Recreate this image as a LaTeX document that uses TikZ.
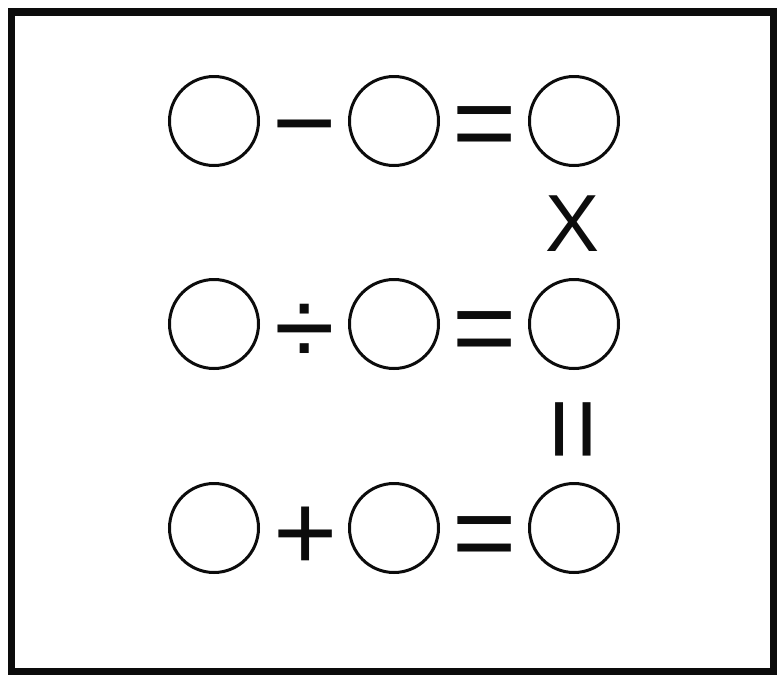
\documentclass[tikz,border=0pt]{standalone}
\usepackage{fontspec}
\setmainfont{Liberation Sans}
\usepackage{tikz}
\usetikzlibrary{positioning}
\definecolor{FrameBlack}{RGB}{12, 12, 12}
\tikzset{
    blank/.style={circle, draw=FrameBlack, line width=3pt, minimum size=89pt, inner sep=0pt},
    op/.style={inner sep=0pt, anchor=base, yshift=-37pt, text=FrameBlack, font=\fontsize{110}{110}\selectfont},
    opturned/.style={inner sep=0pt, anchor=base, rotate=90, text=FrameBlack, font=\fontsize{110}{110}\selectfont},
    letter/.style={inner sep=0pt, text=FrameBlack, font=\fontsize{81}{81}\selectfont}
}

\begin{document}
\begin{tikzpicture}[x=1pt, y=-1pt]
    \useasboundingbox (0,0) rectangle (777,675);
    \draw[line width=7.5pt, FrameBlack] (11.5,12) rectangle (773.5,671.5);

    % first row
    \node[blank] (a1) at (214,121) {};
    \node[op] (minus) at (305,123) {−};
    \node[blank] (a2) at (394,121) {};
    \node[op] (eq1) at (485,123) {=};
    \node[blank] (a3) at (574,121) {};

    % second row
    \node[blank] (b1) at (214,324) {};
    \node[op] (divide) at (305,328) {÷};
    \node[blank] (b2) at (394,324) {};
    \node[op] (eq2) at (485,328) {=};
    \node[blank] (b3) at (574,324) {};

    % third row
    \node[blank] (c1) at (214,528) {};
    \node[op] (plus) at (306,533) {+};
    \node[blank] (c2) at (394,528) {};
    \node[op] (eq3) at (485,533) {=};
    \node[blank] (c3) at (574,528) {};

    % last column
    \node[letter] (times) at (573,224) {X};
    \node[opturned] (eqv) at (609,429) {=};
\end{tikzpicture}
\end{document}
